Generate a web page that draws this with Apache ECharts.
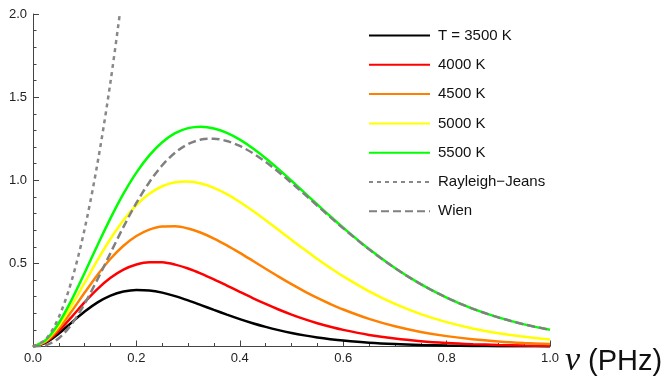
<!DOCTYPE html>
<html>
<head>
<meta charset="utf-8">
<script src="https://cdn.jsdelivr.net/npm/echarts@6/dist/echarts.min.js"></script>
<style>html,body{margin:0;padding:0;background:#fff}#c{width:666px;height:376px}</style>
</head>
<body>
<div id="c"></div>
<script>
// frequency grid (PHz)
var nu = [0, 0.025, 0.05, 0.075, 0.1, 0.125, 0.15, 0.175, 0.2, 0.225, 0.25, 0.275, 0.3, 0.325, 0.35, 0.375, 0.4, 0.425, 0.45, 0.475, 0.5, 0.525, 0.55, 0.575, 0.6, 0.65, 0.7, 0.75, 0.8, 0.85, 0.9, 0.95, 1.0];
// spectral energy density values
var t3500 = [0, 0.02362, 0.07844, 0.1451, 0.2102, 0.2652, 0.3058, 0.3306, 0.3404, 0.3373, 0.3239, 0.3030, 0.2774, 0.2491, 0.2201, 0.1917, 0.1648, 0.1401, 0.1180, 0.09842, 0.08144, 0.06690, 0.05458, 0.04426, 0.03569, 0.02286, 0.01438, 0.00891, 0.00545, 0.00329, 0.00197, 0.00117, 0.00069];
var t4000 = [0, 0.02761, 0.09399, 0.1787, 0.2665, 0.3468, 0.4132, 0.4624, 0.4935, 0.5075, 0.5063, 0.4925, 0.4691, 0.4386, 0.4037, 0.3664, 0.3285, 0.2913, 0.2558, 0.2226, 0.1922, 0.1647, 0.1402, 0.1187, 0.09986, 0.06966, 0.04775, 0.03223, 0.02147, 0.01413, 0.00921, 0.00594, 0.00380];
var t4500 = [0, 0.03161, 0.1097, 0.2128, 0.3244, 0.4322, 0.5279, 0.6061, 0.6646, 0.7027, 0.7215, 0.7229, 0.7095, 0.6841, 0.6496, 0.6085, 0.5632, 0.5157, 0.4677, 0.4205, 0.3751, 0.3322, 0.2923, 0.2557, 0.2224, 0.1658, 0.1214, 0.08761, 0.06237, 0.04389, 0.03056, 0.02109, 0.01443];
var t5000 = [0, 0.03561, 0.1254, 0.2473, 0.3836, 0.5204, 0.6479, 0.7590, 0.8497, 0.9181, 0.9639, 0.9882, 0.9930, 0.9807, 0.9541, 0.9161, 0.8694, 0.8165, 0.7597, 0.7008, 0.6416, 0.5832, 0.5268, 0.4730, 0.4224, 0.3319, 0.2564, 0.1950, 0.1464, 0.1087, 0.07982, 0.05809, 0.04193];
var t5500 = [0, 0.03962, 0.1413, 0.2822, 0.4437, 0.6108, 0.7720, 0.9190, 1.0460, 1.1498, 1.2288, 1.2829, 1.3135, 1.3223, 1.3118, 1.2847, 1.2440, 1.1923, 1.1324, 1.0666, 0.9970, 0.9256, 0.8539, 0.7832, 0.7146, 0.5862, 0.4727, 0.3755, 0.2945, 0.2282, 0.1751, 0.1331, 0.1003];
var wien = [0, 0.00776, 0.04994, 0.1355, 0.2583, 0.4056, 0.5635, 0.7194, 0.8634, 0.9884, 1.0901, 1.1665, 1.2176, 1.2447, 1.2499, 1.2360, 1.2061, 1.1631, 1.1101, 1.0497, 0.9843, 0.9162, 0.8469, 0.7781, 0.7108, 0.5842, 0.4716, 0.3750, 0.2942, 0.2281, 0.1750, 0.1331, 0.1003];
var nuRJ = [0, 0.025, 0.05, 0.075, 0.1, 0.125, 0.15, 0.175];
var rj = [0, 0.04427, 0.1771, 0.3984, 0.7083, 1.1067, 1.5937, 2.1691];
var names = ['T = 3500 K', '4000 K', '4500 K', '5000 K', '5500 K', 'Rayleigh\u2212Jeans', 'Wien'];
var xTicks = [0, 0.2, 0.4, 0.6, 0.8, 1.0];
var yTicks = [0.5, 1.0, 1.5, 2.0];

function pairs(xs, ys) { return xs.map(function (x, i) { return [x, ys[i]]; }); }

var colors = ['#000000', '#ff0000', '#ff8000', '#ffff00', '#00ff00', '#888888', '#808080'];
var sets = [[nu, t3500], [nu, t4000], [nu, t4500], [nu, t5000], [nu, t5500], [nuRJ, rj], [nu, wien]];
var dashes = ['solid', 'solid', 'solid', 'solid', 'solid', [4, 4], [8, 4]];

var series = sets.map(function (s, i) {
  return {
    name: names[i], type: 'line', data: pairs(s[0], s[1]),
    symbol: 'none', showSymbol: false, smooth: 0.33, clip: true, animation: false,
    lineStyle: { color: colors[i], width: 2.5, type: dashes[i] },
    itemStyle: { color: colors[i] }
  };
});

var chart = echarts.init(document.getElementById('c'), null, { renderer: 'canvas' });
chart.setOption({
  animation: false,
  backgroundColor: '#fff',
  grid: { left: 33, top: 14, width: 517, height: 332.5, containLabel: false, outerBoundsMode: 'none' },
  legend: {
    orient: 'vertical', left: 368, top: 28, padding: 0,
    itemWidth: 61, itemHeight: 14, itemGap: 14.3,
    itemStyle: { opacity: 0 },
    textStyle: { fontFamily: 'Liberation Sans', fontSize: 15, color: '#111', padding: [0, 0, 0, 3], lineHeight: 14 },
    data: names
  },
  xAxis: {
    type: 'value', min: 0, max: 1, interval: 0.2,
    name: '{i|\u03bd} (PHz)', nameLocation: 'end', nameGap: 9,
    nameTextStyle: {
      fontFamily: 'Liberation Sans', fontSize: 29, color: '#111', verticalAlign: 'top', padding: [-2, 0, 0, 0],
      rich: { i: { fontFamily: 'Liberation Serif', fontStyle: 'italic', fontSize: 34, color: '#111' } }
    },
    axisLine: { show: true, onZero: false, lineStyle: { color: '#444', width: 1 } },
    axisTick: { show: true, inside: true, length: 6, lineStyle: { color: '#444' } },
    minorTick: { show: true, splitNumber: 4, length: 3.5, lineStyle: { color: '#444' } },
    splitLine: { show: false },
    axisLabel: {
      fontFamily: 'Liberation Sans', fontSize: 13, color: '#222', margin: 5,
      formatter: function (v) { return xTicks.indexOf(Math.round(v * 10) / 10) >= 0 ? v.toFixed(1) : ''; }
    }
  },
  yAxis: {
    type: 'value', min: 0, max: 2, interval: 0.5,
    axisLine: { show: true, onZero: false, lineStyle: { color: '#444', width: 1 } },
    axisTick: { show: true, inside: true, length: 6, lineStyle: { color: '#444' } },
    minorTick: { show: true, splitNumber: 5, length: 3.5, lineStyle: { color: '#444' } },
    splitLine: { show: false },
    axisLabel: {
      fontFamily: 'Liberation Sans', fontSize: 13, color: '#222', margin: 6,
      formatter: function (v) { return yTicks.indexOf(Math.round(v * 10) / 10) >= 0 ? v.toFixed(1) : ''; }
    }
  },
  series: series
});
</script>
</body>
</html>
